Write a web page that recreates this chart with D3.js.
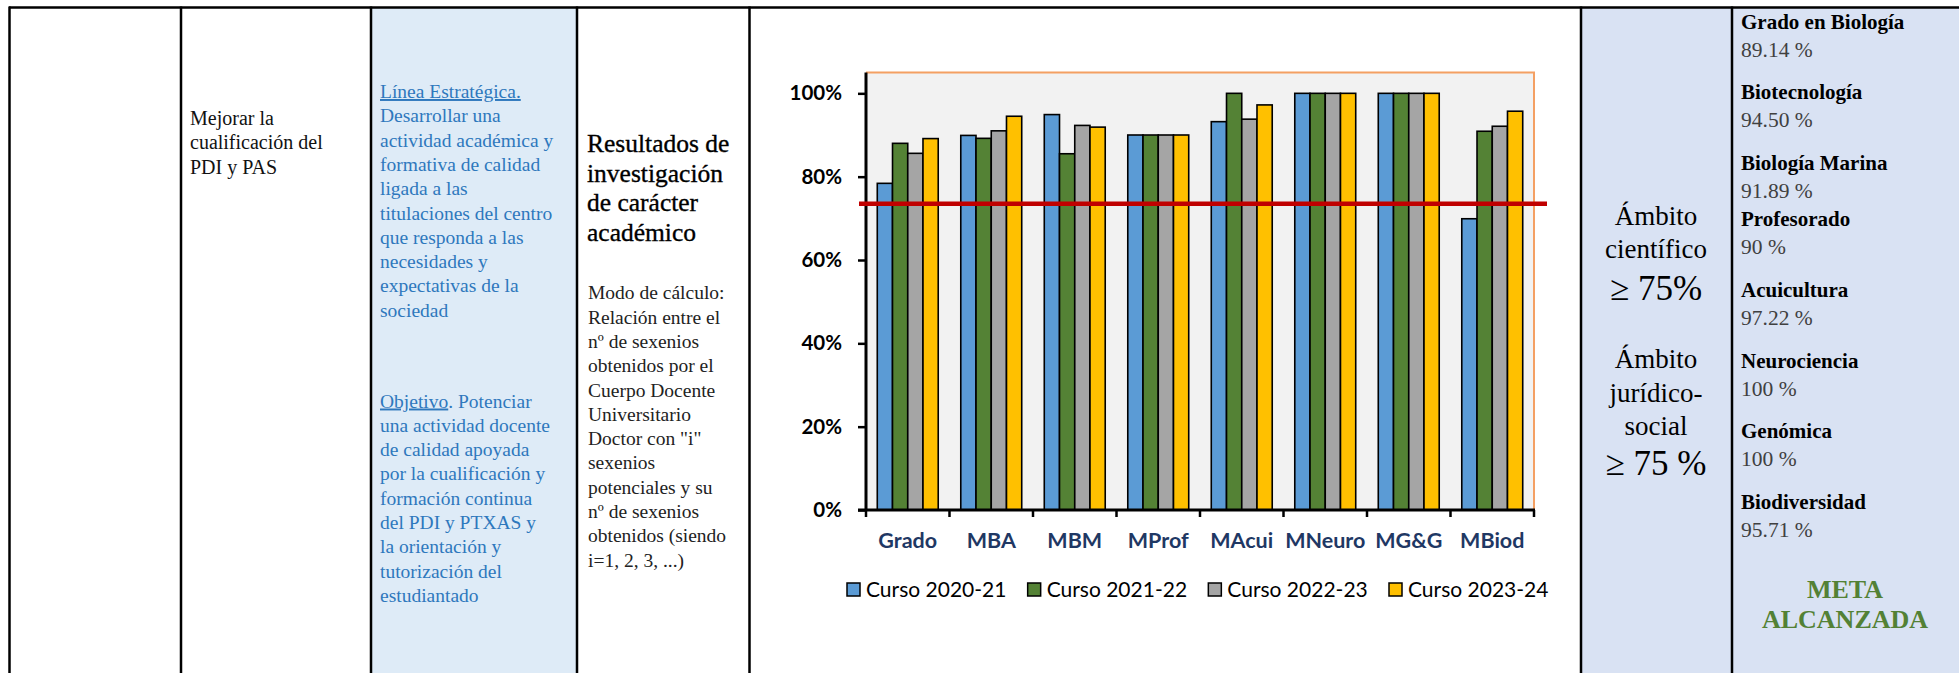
<!doctype html>
<html>
<head>
<meta charset="UTF-8">
<title>Resultados de investigación</title>
<script src="https://cdn.jsdelivr.net/npm/d3@7"></script>
<style>
  body { margin: 0; background: #fff; }
  svg { display: block; }
  .serif { font-family: "Liberation Serif", "Times New Roman", serif; }
  .sans { font-family: Lato, "Open Sans", sans-serif; }
</style>
</head>
<body>
<svg id="page" width="1959" height="673"></svg>
<script>
// ---- chart data ----
var categories = ["Grado", "MBA", "MBM", "MProf", "MAcui", "MNeuro", "MG&G", "MBiod"];
var series = ["Curso 2020-21", "Curso 2021-22", "Curso 2022-23", "Curso 2023-24"];
var curso2020 = [78.4, 89.9, 94.9, 90, 93.2, 100, 100, 69.9];
var curso2021 = [88.0, 89.2, 85.5, 90, 100, 100, 100, 90.9];
var curso2022 = [85.6, 91.0, 92.3, 90, 93.8, 100, 100, 92.1];
var curso2023 = [89.14, 94.50, 91.89, 90, 97.22, 100, 100, 95.71];
var meta = 73.5;
var yTicks = [0, 20, 40, 60, 80, 100];
var colors = ["#5b9bd5", "#548235", "#a5a5a5", "#ffc000"];

// ---- table text ----
var progNames = ["Grado en Biología", "Biotecnología", "Biología Marina", "Profesorado",
                 "Acuicultura", "Neurociencia", "Genómica", "Biodiversidad"];
var progValues = ["89.14 %", "94.50 %", "91.89 %", "90 %", "97.22 %", "100 %", "100 %", "95.71 %"];
var accionLines = ["Mejorar la", "cualificación del", "PDI y PAS"];
var lineaLines = ["", "Desarrollar una", "actividad académica y", "formativa de calidad",
                  "ligada a las", "titulaciones del centro", "que responda a las",
                  "necesidades y", "expectativas de la", "sociedad"];
var objetivoLines = ["", "una actividad docente", "de calidad apoyada", "por la cualificación y",
                     "formación continua", "del PDI y PTXAS y", "la orientación y",
                     "tutorización del", "estudiantado"];
var tituloLines = ["Resultados de", "investigación", "de carácter", "académico"];
var modoLines = ["Modo de cálculo:", "Relación entre el", "nº de sexenios", "obtenidos por el",
                 "Cuerpo Docente", "Universitario", "Doctor con \"i\"", "sexenios",
                 "potenciales y su", "nº de sexenios", "obtenidos (siendo", "i=1, 2, 3, ...)"];

var svg = d3.select("#page");

// ---- table cells ----
svg.append("rect").attr("x", 371).attr("y", 7).attr("width", 206).attr("height", 666).attr("fill", "#deebf7");
svg.append("rect").attr("x", 1581).attr("y", 7).attr("width", 378).attr("height", 666).attr("fill", "#d9e2f3");

var borders = svg.append("g").attr("stroke", "#000").attr("stroke-width", 2.5);
borders.append("line").attr("x1", 9).attr("x2", 1959).attr("y1", 7.5).attr("y2", 7.5);
[9.5, 181, 371, 577, 749.5, 1581, 1732].forEach(function(x){
  borders.append("line").attr("x1", x).attr("x2", x).attr("y1", 6.5).attr("y2", 673);
});

function lines(g, arr, x, y0, lh) {
  g.selectAll(null).data(arr).enter().append("text")
    .attr("x", x)
    .attr("y", function(d, i){ return y0 + i * lh; })
    .text(function(d){ return d; });
}

var t1 = svg.append("g").attr("class", "serif").attr("font-size", 20).attr("fill", "#111");
lines(t1, accionLines, 190, 125, 24.3);

var t2 = svg.append("g").attr("class", "serif").attr("font-size", 19.5).attr("fill", "#2e78bd");
lines(t2, lineaLines, 380, 98, 24.3);
t2.append("text").attr("x", 380).attr("y", 98)
  .append("tspan").style("text-decoration", "underline").text("Línea Estratégica.");
lines(t2, objetivoLines, 380, 407.5, 24.3);
var obj = t2.append("text").attr("x", 380).attr("y", 407.5);
obj.append("tspan").style("text-decoration", "underline").text("Objetivo");
obj.append("tspan").text(". Potenciar");

var t3 = svg.append("g").attr("class", "serif").attr("fill", "#000");
lines(t3.append("g").attr("font-size", 25.5).attr("stroke", "#000").attr("stroke-width", 0.35),
      tituloLines, 587, 152, 29.7);
lines(t3.append("g").attr("font-size", 19.5).attr("fill", "#222"), modoLines, 588, 299.3, 24.3);

// ambito column
var amb = svg.append("g").attr("class", "serif").attr("text-anchor", "middle").attr("fill", "#000");
var ambText = [["Ámbito", 225, 27], ["científico", 258, 27], ["≥ 75%", 300, 35],
               ["Ámbito", 368, 27], ["jurídico-", 402, 27], ["social", 435, 27], ["≥ 75 %", 475, 35]];
amb.selectAll(null).data(ambText).enter().append("text")
  .attr("x", 1656).attr("y", function(d){ return d[1]; })
  .attr("font-size", function(d){ return d[2]; })
  .text(function(d){ return d[0]; });

// programme results column
var prog = svg.append("g").attr("class", "serif");
function progY(i) { return 28.5 + i * 70.8 - (i >= 3 ? 15 : 0); }
prog.selectAll(".pn").data(progNames).enter().append("text")
  .attr("class", "pn").attr("x", 1741).attr("y", function(d, i){ return progY(i); })
  .attr("font-size", 21).attr("font-weight", "bold").attr("fill", "#000")
  .text(function(d){ return d; });
prog.selectAll(".pv").data(progValues).enter().append("text")
  .attr("class", "pv").attr("x", 1741).attr("y", function(d, i){ return progY(i) + 28; })
  .attr("font-size", 21.5).attr("fill", "#404040")
  .text(function(d){ return d; });
var metaTxt = prog.append("g").attr("text-anchor", "middle").attr("font-weight", "bold")
  .attr("font-size", 26).attr("fill", "#538135");
lines(metaTxt, ["META", "ALCANZADA"], 1845, 598, 30);

// ---- chart ----
var pLeft = 866, pRight = 1534, pTop = 72.5, pBottom = 510;
var values = [curso2020, curso2021, curso2022, curso2023];

var x0 = d3.scaleBand().domain(categories).range([pLeft, pRight]).padding(0);
var x1 = d3.scaleBand().domain(series).range([0, x0.bandwidth()]).paddingInner(0).paddingOuter(0.74);
var y = d3.scaleLinear().domain([0, 105]).range([pBottom, pTop]);

var chart = svg.append("g");
chart.append("rect").attr("x", pLeft).attr("y", pTop).attr("width", pRight - pLeft).attr("height", pBottom - pTop)
  .attr("fill", "#f2f2f2");
chart.append("path")
  .attr("d", "M" + pLeft + "," + pTop + "H" + pRight + "V" + pBottom)
  .attr("fill", "none").attr("stroke", "#f4a063").attr("stroke-width", 2);

var groups = chart.selectAll(".grp").data(categories).enter().append("g")
  .attr("class", "grp")
  .attr("transform", function(d){ return "translate(" + x0(d) + ",0)"; });
groups.selectAll("rect")
  .data(function(d, i){ return series.map(function(s, j){ return { s: s, j: j, v: values[j][i] }; }); })
  .enter().append("rect")
  .attr("x", function(d){ return x1(d.s); })
  .attr("y", function(d){ return y(d.v); })
  .attr("width", x1.bandwidth())
  .attr("height", function(d){ return y(0) - y(d.v); })
  .attr("fill", function(d){ return colors[d.j]; })
  .attr("stroke", "#000").attr("stroke-width", 1.6);

// y axis
var yAxis = chart.append("g").attr("transform", "translate(" + pLeft + ",0)")
  .call(d3.axisLeft(y).tickValues(yTicks).tickSize(8).tickPadding(16)
        .tickFormat(function(d){ return d + "%"; }));
yAxis.select(".domain").attr("d", "M0," + pTop + "V" + pBottom).attr("stroke-width", 3);
yAxis.selectAll(".tick line").attr("stroke-width", 2.5);
yAxis.selectAll(".tick text").attr("class", "sans").attr("font-size", 20.5).attr("font-weight", "bold")
  .attr("fill", "#000");

// x axis with ticks at category boundaries
var xAxis = chart.append("g").attr("transform", "translate(0," + pBottom + ")");
xAxis.append("line").attr("x1", pLeft - 8).attr("x2", pRight + 1).attr("stroke", "#000").attr("stroke-width", 3);
xAxis.selectAll(".xt").data(categories.concat(["_end"])).enter().append("line")
  .attr("x1", function(d, i){ return i < categories.length ? x0(d) : pRight; })
  .attr("x2", function(d, i){ return i < categories.length ? x0(d) : pRight; })
  .attr("y1", 0).attr("y2", 7).attr("stroke", "#000").attr("stroke-width", 2.5);
xAxis.selectAll(".xl").data(categories).enter().append("text")
  .attr("class", "sans")
  .attr("x", function(d){ return x0(d) + x0.bandwidth() / 2; })
  .attr("y", 38).attr("text-anchor", "middle")
  .attr("font-size", 21.5).attr("font-weight", "bold").attr("fill", "#1f3864")
  .text(function(d){ return d; });

// target line
chart.append("line").attr("x1", pLeft - 7).attr("x2", pRight + 13)
  .attr("y1", y(meta)).attr("y2", y(meta))
  .attr("stroke", "#c00000").attr("stroke-width", 4.5);

// legend
var legendX = d3.scalePoint().domain(series).range([847, 1389]);
var legend = chart.selectAll(".lg").data(series).enter().append("g")
  .attr("class", "lg")
  .attr("transform", function(d){ return "translate(" + legendX(d) + ",583)"; });
legend.append("rect").attr("width", 13).attr("height", 13)
  .attr("fill", function(d, i){ return colors[i]; })
  .attr("stroke", "#000").attr("stroke-width", 1.5);
legend.append("text").attr("class", "sans").attr("x", 19).attr("y", 14)
  .attr("font-size", 21).attr("fill", "#000")
  .text(function(d){ return d; });
</script>
</body>
</html>
